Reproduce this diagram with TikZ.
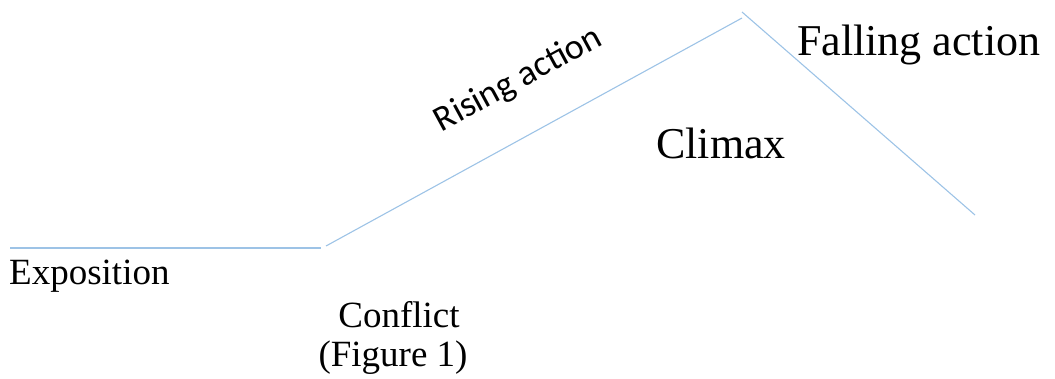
\documentclass[tikz,border=0pt]{standalone}
\usepackage{fontspec}
\setmainfont{Liberation Serif}
\newfontfamily\calibri{Carlito}
\definecolor{linecol}{RGB}{157,195,230}
\begin{document}
\begin{tikzpicture}[x=1pt,y=-1pt,
  plotline/.style={draw=linecol,line width=1.1pt},
  lbl/.style={inner sep=0pt,font=\fontsize{37}{39}\selectfont},
  biglbl/.style={inner sep=0pt,font=\fontsize{44}{48}\selectfont}]
\useasboundingbox (0,0) rectangle (1055,378);
\coordinate (e0) at (10,248);
\coordinate (e1) at (321,248);
\coordinate (r0) at (326,246);
\coordinate (r1) at (742,18);
\coordinate (f0) at (742,12);
\coordinate (f1) at (975,215);
\draw[plotline] (e0) -- (e1);
\draw[plotline] (r0) -- (r1);
\draw[plotline] (f0) -- (f1);
\node[lbl,anchor=base west] (expo) at (9,284) {Exposition};
\node[lbl,anchor=base] (conf) at (399,327) {Conflict};
\node[lbl,anchor=base] (fig) at (393,366) {(Figure 1)};
\node[biglbl,anchor=base west] (clim) at (656,158) {Climax};
\node[biglbl,anchor=base west] (fall) at (797,55) {Falling action};
\node[inner sep=0pt,anchor=base,rotate=28.5,font=\calibri\fontsize{36}{40}\selectfont] (rise) at (523,88) {Rising action};
\end{tikzpicture}
\end{document}
